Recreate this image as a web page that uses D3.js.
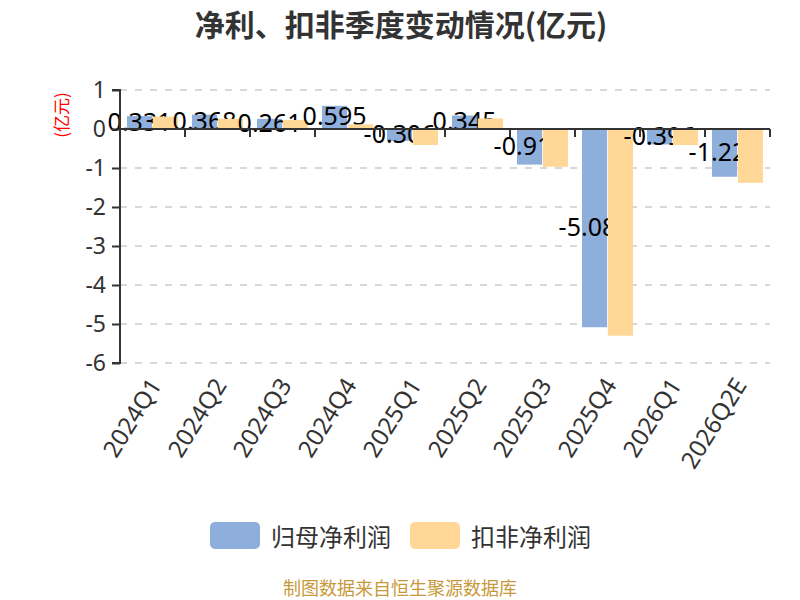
<!DOCTYPE html>
<html>
<head>
<meta charset="utf-8">
<script src="https://cdn.jsdelivr.net/npm/d3@7"></script>
<style>
  body { margin: 0; background: #fff; }
  svg text { font-family: "Noto Sans", "Noto Sans CJK SC", sans-serif; }
</style>
</head>
<body>
<div id="chart"></div>
<script>
/*------------------------------
 DATA
 ----------------------------*/
const QUARTERS = ["2024Q1", "2024Q2", "2024Q3", "2024Q4", "2025Q1", "2025Q2", "2025Q3", "2025Q4", "2026Q1", "2026Q2E"];
const NET_PROFIT = [0.331, 0.368, 0.261, 0.595, -0.306, 0.345, -0.913, -5.083, -0.396, -1.224];
const DEDUCTED_PROFIT = [0.32, 0.26, 0.23, 0.12, -0.41, 0.27, -0.97, -5.30, -0.41, -1.38];
const SERIES_NAMES = ["归母净利润", "扣非净利润"];
const Y_TICKS = [1, 0, -1, -2, -3, -4, -5, -6];

/*------------------------------
 CONSTANTS
 ----------------------------*/
const SVG_WIDTH = 800;
const SVG_HEIGHT = 600;
const PLOT = {left: 120, right: 770, top: 90, bottom: 363};
const COLORS = ["#8eaedb", "#ffd898"];

const svg = d3.select("#chart").append("svg")
    .attr("width", SVG_WIDTH)
    .attr("height", SVG_HEIGHT);

const xScale = d3.scaleBand().domain(QUARTERS).range([PLOT.left, PLOT.right]);
const xInner = d3.scaleBand().domain([0, 1]).range([7, xScale.bandwidth() - 7]).paddingInner(0.03);
const yScale = d3.scaleLinear().domain([-6, 1]).range([PLOT.bottom, PLOT.top]);

// title
svg.append("text")
    .attr("x", 401).attr("y", 23)
    .attr("text-anchor", "middle")
    .attr("dominant-baseline", "central")
    .style("font-family", "'Noto Sans CJK SC', sans-serif")
    .style("font-size", "30px")
    .style("font-weight", "bold")
    .attr("fill", "#333")
    .text("净利、扣非季度变动情况(亿元)");

// y unit
svg.append("text")
    .attr("transform", "translate(60, 115) rotate(-90)")
    .attr("text-anchor", "middle")
    .attr("dominant-baseline", "central")
    .style("font-family", "'Noto Sans CJK SC', sans-serif")
    .style("font-size", "17px")
    .attr("fill", "#ff0000")
    .text("(亿元)");

// grid
svg.append("g").selectAll("line")
    .data(Y_TICKS.filter(d => d !== 0))
    .enter().append("line")
    .attr("x1", PLOT.left).attr("x2", PLOT.right)
    .attr("y1", d => yScale(d)).attr("y2", d => yScale(d))
    .attr("stroke", "#cccccc")
    .attr("stroke-width", 1.5)
    .attr("stroke-dasharray", "7,8");

// bars
const groups = svg.append("g").selectAll("g")
    .data(QUARTERS)
    .enter().append("g")
    .attr("transform", d => `translate(${xScale(d)},0)`);

function drawBars(values, idx) {
    groups.append("rect")
        .attr("x", xInner(idx))
        .attr("width", xInner.bandwidth())
        .attr("y", (d, i) => yScale(Math.max(0, values[i])))
        .attr("height", (d, i) => Math.abs(yScale(values[i]) - yScale(0)))
        .attr("fill", COLORS[idx]);
}

drawBars(NET_PROFIT, 0);

// labels of first series (later bars cover them, as in the original)
groups.append("text")
    .attr("x", xInner(0) + xInner.bandwidth() / 2)
    .attr("y", (d, i) => (yScale(NET_PROFIT[i]) + yScale(0)) / 2 - 2)
    .attr("text-anchor", "middle")
    .attr("dominant-baseline", "central")
    .style("font-size", "25px")
    .attr("fill", "#000")
    .text((d, i) => NET_PROFIT[i]);

drawBars(DEDUCTED_PROFIT, 1);

// axes
const yAxis = d3.axisLeft(yScale).tickValues(Y_TICKS).tickSize(8).tickPadding(6).tickFormat(d => String(d));
const gy = svg.append("g").attr("transform", `translate(${PLOT.left},0)`).call(yAxis);
gy.select(".domain").attr("stroke", "#333").attr("stroke-width", 2).attr("d", `M-8,${PLOT.top}H0V${PLOT.bottom}H-8`);
gy.selectAll(".tick line").attr("stroke", "#333").attr("stroke-width", 2);
gy.selectAll(".tick text").style("font-size", "23px").attr("fill", "#333").style("font-family", "'Noto Sans', sans-serif");

const xLine = svg.append("g");
xLine.append("line")
    .attr("x1", PLOT.left).attr("x2", PLOT.right)
    .attr("y1", yScale(0)).attr("y2", yScale(0))
    .attr("stroke", "#333").attr("stroke-width", 2);
xLine.selectAll(".xtick")
    .data(QUARTERS.concat(["end"]))
    .enter().append("line")
    .attr("class", "xtick")
    .attr("x1", d => d === "end" ? PLOT.right : xScale(d))
    .attr("x2", d => d === "end" ? PLOT.right : xScale(d))
    .attr("y1", yScale(0)).attr("y2", yScale(0) + 8)
    .attr("stroke", "#333").attr("stroke-width", 2);

svg.append("g").selectAll("text")
    .data(QUARTERS)
    .enter().append("text")
    .attr("transform", d => `translate(${xScale(d) + xScale.bandwidth() / 2 + 2}, ${PLOT.bottom + 17}) rotate(-58)`)
    .attr("text-anchor", "end")
    .attr("dominant-baseline", "central")
    .style("font-size", "24px")
    .attr("fill", "#333")
    .text(d => d);

// legend
const legend = svg.append("g");
const LEGEND_X = [210, 410];
SERIES_NAMES.forEach((name, i) => {
    legend.append("rect")
        .attr("x", LEGEND_X[i]).attr("y", 522)
        .attr("width", 50).attr("height", 27)
        .attr("rx", 5)
        .attr("fill", COLORS[i]);
    legend.append("text")
        .attr("x", LEGEND_X[i] + 61).attr("y", 535)
        .attr("dominant-baseline", "central")
        .style("font-family", "'Noto Sans CJK SC', sans-serif")
        .style("font-size", "24px")
        .attr("fill", "#333")
        .text(name);
});

// source
svg.append("text")
    .attr("x", 400).attr("y", 587)
    .attr("text-anchor", "middle")
    .attr("dominant-baseline", "central")
    .style("font-family", "'Noto Sans CJK SC', sans-serif")
    .style("font-size", "18px")
    .attr("fill", "#c8993a")
    .text("制图数据来自恒生聚源数据库");
</script>
</body>
</html>
